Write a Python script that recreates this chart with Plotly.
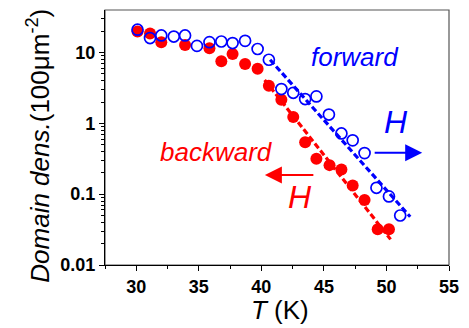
import plotly.graph_objects as go

# Forward (open blue circles)
fwd_T = [30.1, 31.1, 32.0, 33.0, 33.9, 34.85, 35.85, 36.8, 37.7, 38.7, 39.7, 40.6,
         41.6, 42.55, 43.5, 44.4, 45.4, 46.4, 47.3, 48.25, 49.2, 50.2, 51.1]
fwd_D = [21, 16, 17.4, 16.8, 17.4, 12.4, 14, 14.3, 13.6, 14.6, 11.2, 7.9,
         3.05, 2.7, 2.2, 2.4, 1.33, 0.72, 0.575, 0.38, 0.123, 0.093, 0.05]
# Backward (filled red circles)
bwd_T = [30.1, 31.1, 32.0, 33.9, 35.85, 36.8, 37.7, 38.7, 39.7, 40.6, 41.6, 42.55,
         43.5, 44.4, 45.45, 46.4, 47.3, 48.25, 49.3, 50.2]
bwd_D = [19.8, 18.5, 14, 12.8, 11.5, 7.5, 9.5, 6.9, 5.9, 3.4, 2.16, 1.23,
         0.54, 0.316, 0.257, 0.223, 0.133, 0.083, 0.032, 0.032]
# Dashed fit lines
fit_fwd_T = [40.7, 51.9]
fit_fwd_D = [7.9, 0.048]
fit_bwd_T = [40.26, 50.33]
fit_bwd_D = [4.1, 0.023]

x_ticks = [30, 35, 40, 45, 50, 55]
y_ticks = [0.01, 0.1, 1, 10]
y_ticktext = ["0.01", "0.1", "1", "10"]

BLUE = "#0000FF"
RED = "#FF0000"
FONT = "Liberation Sans, Arial, sans-serif"

fig = go.Figure()
fig.add_trace(go.Scatter(x=bwd_T, y=bwd_D, mode="markers",
                         marker=dict(symbol="circle", size=12, color=RED, line=dict(width=0))))
fig.add_trace(go.Scatter(x=fwd_T, y=fwd_D, mode="markers",
                         marker=dict(symbol="circle-open", size=11, color=BLUE, line=dict(width=1.7))))
fig.add_trace(go.Scatter(x=fit_bwd_T, y=fit_bwd_D, mode="lines",
                         line=dict(color=RED, width=3.2, dash="6px,3px")))
fig.add_trace(go.Scatter(x=fit_fwd_T, y=fit_fwd_D, mode="lines",
                         line=dict(color=BLUE, width=3.2, dash="6px,3px")))

axis_common = dict(showgrid=False, zeroline=False, showline=True, linecolor="black",
                   linewidth=1.2, mirror=False, ticks="outside", tickcolor="black",
                   tickfont=dict(family=FONT, size=18, color="black", weight="bold"))

fig.update_xaxes(range=[27.5, 55], tickvals=x_ticks, ticklen=5, tickwidth=1.2,
                 minor=dict(dtick=2.5, tick0=27.5, ticks="outside", ticklen=3, tickcolor="black"),
                 **axis_common)
fig.update_yaxes(type="log", range=[-2, 1.6], tickvals=y_ticks, ticktext=y_ticktext,
                 ticklen=5, tickwidth=1.2,
                 minor=dict(dtick="D1", ticks="outside", ticklen=3, tickcolor="black"),
                 **axis_common)

# gray frame on top/right
fig.add_shape(type="rect", xref="paper", yref="paper", x0=0, y0=0, x1=1, y1=1,
              line=dict(color="#555555", width=1.2), layer="below")


def txt(text, x, y, size, color, angle=0):
    return dict(text=text, xref="paper", yref="paper", x=x, y=y, showarrow=False,
                xanchor="center", yanchor="middle", textangle=angle,
                font=dict(family=FONT, size=size, color=color))


ann = [
    txt("<i>Domain dens.</i>(100μm<sup>-2</sup>)", -0.1925, 0.467, 26, "black", -90),
    txt("<i>T</i> (K)", 0.508, -0.176, 26, "black"),
    txt("<i>forward</i>", 0.727, 0.816, 26, BLUE),
    txt("<i>backward</i>", 0.3227, 0.444, 26, RED),
    txt("<i>H</i>", 0.5675, 0.268, 32, RED),
    txt("<i>H</i>", 0.845, 0.562, 32, BLUE),
    dict(text="", xref="paper", yref="paper", x=0.4647, y=0.353, ax=50, ay=0,
         showarrow=True, arrowhead=2, arrowsize=1.7, arrowwidth=2, arrowcolor=RED),
    dict(text="", xref="paper", yref="paper", x=0.922, y=0.440, ax=-49, ay=0,
         showarrow=True, arrowhead=2, arrowsize=1.7, arrowwidth=2, arrowcolor=BLUE),
]

fig.update_layout(width=469, height=328, margin=dict(l=105, r=16, t=10, b=63),
                  plot_bgcolor="white", paper_bgcolor="white", showlegend=False,
                  annotations=ann, font=dict(family=FONT))

fig.write_html("out.html", config={"displayModeBar": False},
               post_script="document.body.style.margin='0';document.body.style.overflow='hidden';")
